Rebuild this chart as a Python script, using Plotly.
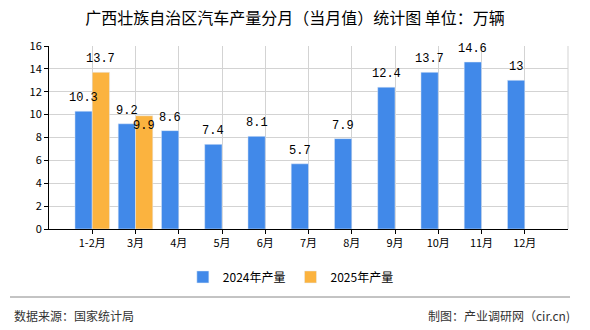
import plotly.graph_objects as go

categories = ["1-2月", "3月", "4月", "5月", "6月", "7月", "8月", "9月", "10月", "11月", "12月"]
values_2024 = [10.3, 9.2, 8.6, 7.4, 8.1, 5.7, 7.9, 12.4, 13.7, 14.6, 13]
values_2025 = [13.7, 9.9, None, None, None, None, None, None, None, None, None]
series_names = ["2024年产量", "2025年产量"]
y_ticks = [0, 2, 4, 6, 8, 10, 12, 14, 16]

def fmt(v):
    return "%g" % v

xpos = list(range(len(categories)))
label_font = dict(family="'Liberation Mono', 'DejaVu Sans Mono', monospace", size=12, color="#000")

fig = go.Figure()
fig.add_trace(go.Bar(x=xpos, y=values_2024, name=series_names[0], marker_color="#4189E9"))
fig.add_trace(go.Bar(x=xpos, y=values_2025, name=series_names[1], marker_color="#FBB33F"))

# value labels
for i, v in enumerate(values_2024):
    fig.add_annotation(x=i - 0.2, y=v, text=fmt(v), showarrow=False, yanchor="bottom",
                       yshift=4, font=label_font)
for i, v in enumerate(values_2025):
    if v is None:
        continue
    if i == 1:
        fig.add_annotation(x=i + 0.2, y=v, text=fmt(v), showarrow=False, yanchor="top",
                           yshift=-1, font=label_font)
    else:
        fig.add_annotation(x=i + 0.2, y=v, text=fmt(v), showarrow=False, yanchor="bottom",
                           yshift=4, font=label_font)

fig.update_layout(
    width=590, height=330,
    margin=dict(l=49, r=22, t=46, b=101),
    paper_bgcolor="white", plot_bgcolor="white",
    barmode="group", bargap=0.2, bargroupgap=0,
    title=dict(text="广西壮族自治区汽车产量分月（当月值）统计图 单位：万辆",
               x=0.5, xanchor="center", y=0.945, yanchor="middle",
               font=dict(family="'Noto Sans CJK SC'", size=16, color="#000")),
    font=dict(family="'Noto Sans CJK SC'", size=11, color="#000"),
    legend=dict(orientation="h", x=0.466, xanchor="center", y=-0.262, yanchor="middle",
                font=dict(size=12, color="#000"), itemwidth=30, traceorder="normal"),
    showlegend=True,
)
fig.update_xaxes(
    tickmode="array", tickvals=xpos, ticktext=categories,
    range=[-1, len(categories)], showgrid=True, gridcolor="#d3d3d3",
    showline=True, linecolor="#000", linewidth=1, ticks="outside", ticklen=4,
    tickcolor="#000", tickfont=dict(size=11), zeroline=False,
)
fig.update_yaxes(
    range=[0, 16], tickvals=y_ticks, showgrid=True, gridcolor="#d3d3d3",
    showline=True, linecolor="#000", linewidth=1, ticks="outside", ticklen=4,
    tickcolor="#000", tickfont=dict(size=11), zeroline=False,
)
# right border gridline
fig.add_shape(type="line", xref="paper", yref="paper", x0=1, x1=1, y0=0, y1=1,
              line=dict(color="#d3d3d3", width=1))
fig.add_shape(type="line", xref="paper", yref="paper", x0=-0.0751, x1=1.0039, y0=-0.3716, y1=-0.3716,
              line=dict(color="#888", width=1))
fig.add_annotation(text="数据来源：国家统计局", xref="paper", yref="paper",
                   x=-0.0713, xanchor="left", y=-0.47, yanchor="middle", showarrow=False,
                   font=dict(size=12, color="#333"))
fig.add_annotation(text="制图：产业调研网（cir.cn)", xref="paper", yref="paper",
                   x=1.0077, xanchor="right", y=-0.47, yanchor="middle", showarrow=False,
                   font=dict(size=12, color="#333"))
fig.write_html("out.html")
